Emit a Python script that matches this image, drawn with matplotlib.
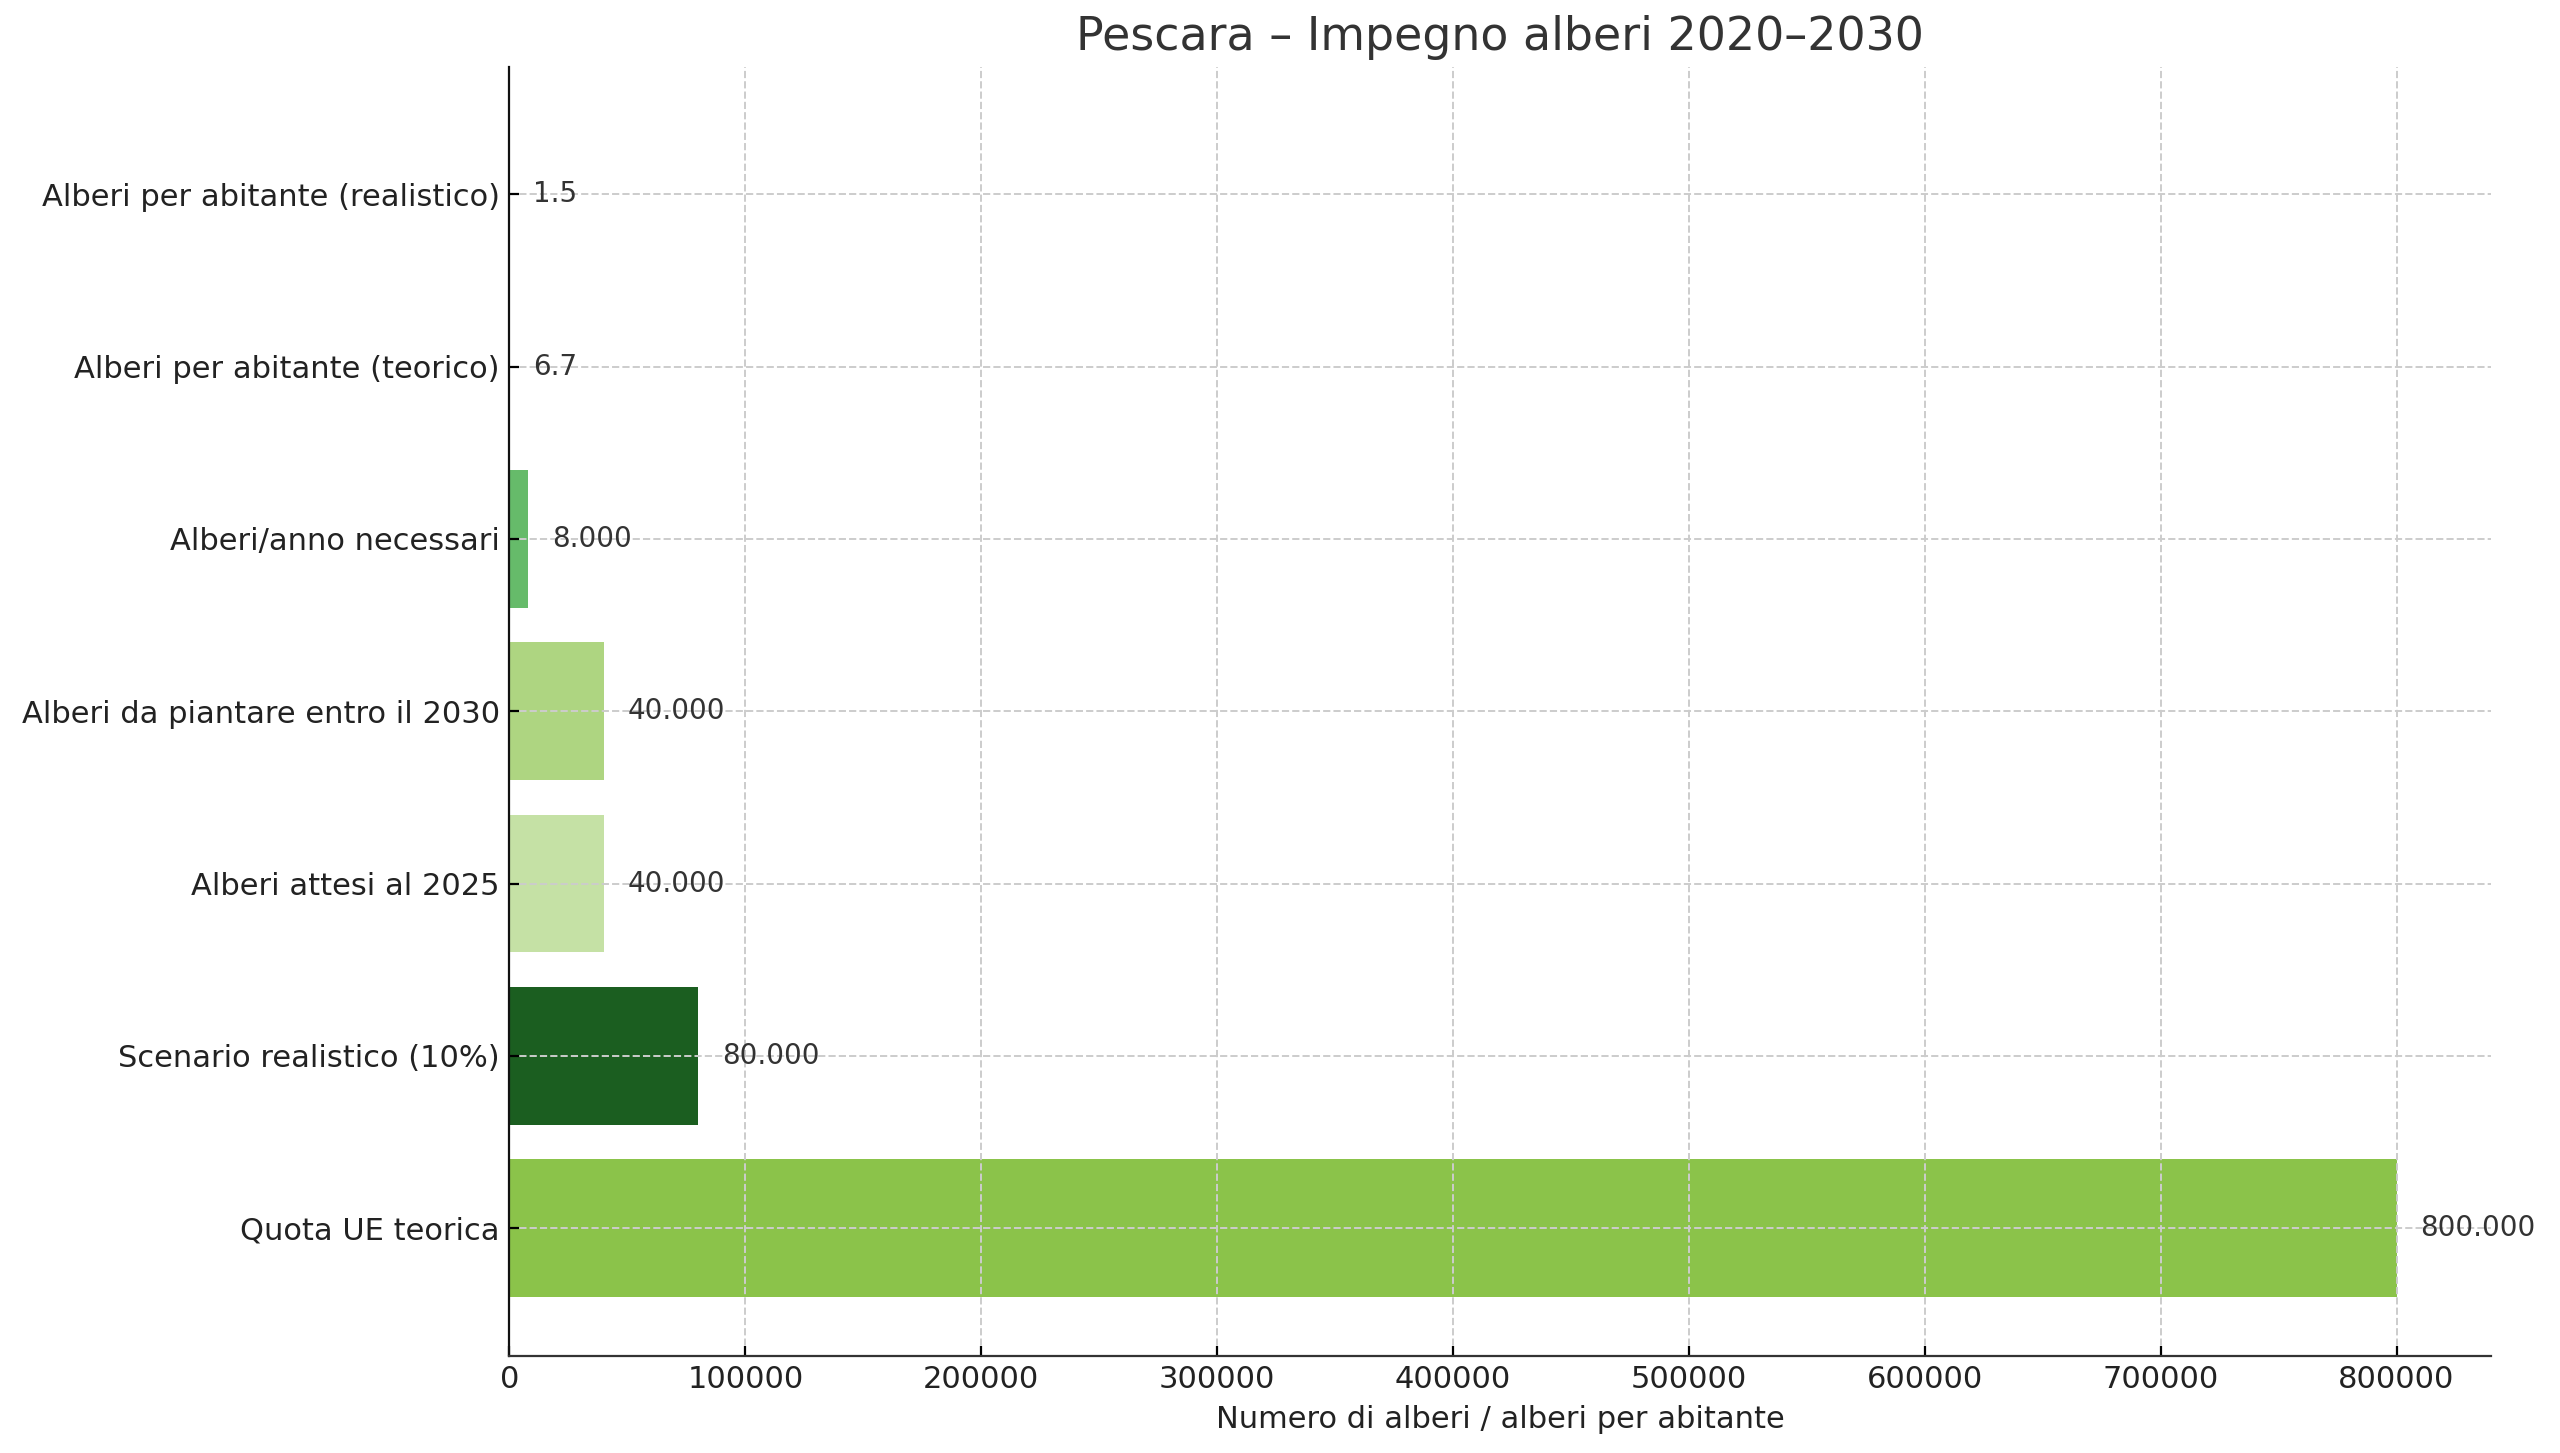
import numpy as np
import matplotlib
matplotlib.use("Agg")
import matplotlib.pyplot as plt

# dati (dal basso verso l'alto)
categorie = ["Quota UE teorica", "Scenario realistico (10%)", "Alberi attesi al 2025",
             "Alberi da piantare entro il 2030", "Alberi/anno necessari",
             "Alberi per abitante (teorico)", "Alberi per abitante (realistico)"]
valori = [800000, 80000, 40000, 40000, 8000, 6.7, 1.5]
etichette = ["800.000", "80.000", "40.000", "40.000", "8.000", "6.7", "1.5"]
colori = ["#8bc34a", "#1b5e20", "#c5e1a5", "#aed581", "#66bb6a", "#4caf50", "#2e7d32"]

fig, ax = plt.subplots(figsize=(12.8, 7.265), dpi=200)
fig.subplots_adjust(left=0.199, right=0.973, top=0.954, bottom=0.067)

y = np.arange(len(categorie))
ax.barh(y, valori, color=colori, height=0.8)
ax.set_yticks(y)
ax.set_yticklabels(categorie, fontsize=11, color="#222222")

for yi, v, t in zip(y, valori, etichette):
    ax.text(v + 10000, yi, t, va="center", ha="left", fontsize=10, color="#333333")

ax.set_title("Pescara – Impegno alberi 2020–2030", fontsize=16.5, color="#333333")
ax.set_xlabel("Numero di alberi / alberi per abitante", fontsize=11, color="#222222")
ax.grid(True, linestyle="--", color="#cccccc", linewidth=0.7)
ax.tick_params(direction="in", labelsize=11, labelcolor="#222222")
ax.spines["top"].set_visible(False)
ax.spines["right"].set_visible(False)
ax.spines["left"].set_color("#111111")
ax.spines["bottom"].set_color("#333333")

plt.savefig("out.png", dpi=200)
